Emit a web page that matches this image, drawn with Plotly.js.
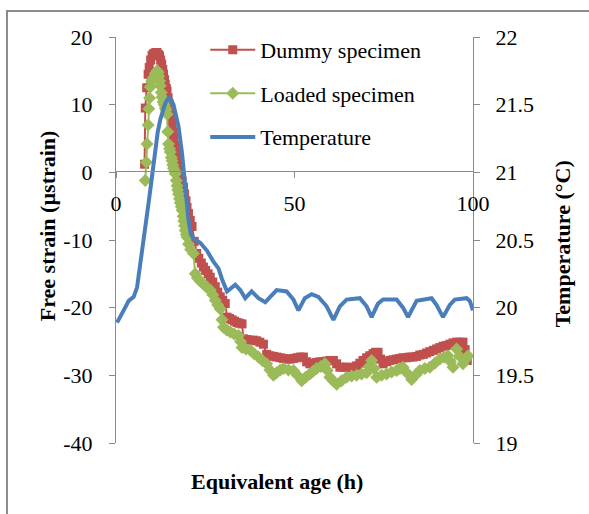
<!DOCTYPE html>
<html>
<head>
<meta charset="utf-8">
<script src="https://cdn.plot.ly/plotly-3.0.1.min.js"></script>
<style>
  html, body { margin: 0; padding: 0; background: #fff; }
  #wrap { position: relative; width: 589px; height: 514px; overflow: hidden; }
  #frame { position: absolute; left: 6px; top: 10px; width: 700px; height: 600px; border: 2px solid #8c8c8c; box-sizing: border-box; pointer-events: none; }
  #chart { position: absolute; left: 0; top: 0; width: 589px; height: 514px; }
</style>
</head>
<body>
<div id="wrap">
  <div id="chart"></div>
  <div id="frame"></div>
</div>
<script>
// Dummy specimen: equivalent age (h) and free strain (µstrain)
const dummyAge = [8.0, 8.2, 8.6, 9.0, 9.3, 9.7, 10.1, 10.5, 10.8, 11.2, 11.5, 11.9, 12.2, 12.5, 12.8, 13.1, 13.3, 13.6, 13.8, 14.1,
  14.3, 14.6, 14.8, 15.0, 15.2, 15.5, 15.7, 15.9, 16.1, 16.5, 16.8, 17.1, 17.5, 17.8, 18.2, 18.5, 18.9, 19.2, 19.6, 19.9,
  20.3, 20.8, 21.3, 21.9, 22.6, 23.2, 23.9, 24.5, 25.1, 25.8, 26.4, 27.1, 27.8, 28.5, 29.2, 29.9, 30.6, 31.1, 31.8, 32.5,
  33.2, 33.9, 34.6, 35.3, 35.7, 36.6, 37.5, 38.5, 39.4, 40.3, 41.3, 42.2, 43.1, 44.1, 45.0, 46.0, 46.9, 47.9, 48.8, 49.7,
  50.7, 51.6, 52.5, 53.4, 54.3, 55.2, 56.2, 57.1, 58.0, 59.0, 59.9, 60.9, 61.8, 62.7, 63.6, 64.6, 65.5, 66.4, 67.4, 68.3,
  69.2, 70.2, 71.1, 72.0, 72.7, 73.4, 74.1, 74.8, 75.8, 76.7, 77.6, 78.6, 79.5, 80.4, 81.4, 82.3, 83.2, 84.2, 85.1, 86.1,
  87.0, 87.9, 88.9, 89.8, 90.7, 91.6, 92.5, 93.5, 94.4, 95.4, 96.3, 97.2, 97.8, 98.4];
const dummyStrain = [1.2, 9.5, 12.5, 14.5, 15.5, 16.6, 17.3, 17.5, 17.6, 17.7, 17.7, 17.4, 17.2, 16.6, 16.0, 15.2, 14.5, 13.7, 13.0, 12.4,
  12.0, 11.0, 10.2, 9.4, 8.6, 7.6, 6.8, 6.0, 5.2, 4.0, 3.0, 2.1, 1.2, 0.3, -0.5, -1.3, -2.2, -3.2, -4.2, -5.2,
  -6.1, -7.1, -8.0, -10.2, -12.0, -12.7, -13.4, -14.0, -14.5, -15.0, -15.5, -16.2, -16.9, -17.7, -18.4, -18.9, -19.4, -21.4, -21.6, -21.8,
  -22.0, -22.2, -22.3, -22.4, -24.6, -24.7, -24.8, -24.8, -24.9, -25.1, -25.4, -26.9, -27.1, -27.2, -27.3, -27.4, -27.5, -27.6, -27.6, -27.5,
  -27.4, -27.3, -27.3, -28.0, -28.3, -28.2, -28.1, -28.0, -28.0, -27.9, -27.8, -27.8, -28.3, -28.8, -28.8, -28.8, -28.9, -28.8, -28.6, -28.2,
  -27.8, -27.4, -27.1, -26.8, -26.6, -26.6, -27.6, -28.3, -28.0, -27.8, -27.7, -27.6, -27.5, -27.4, -27.4, -27.3, -27.3, -27.2, -27.0, -26.9,
  -26.7, -26.5, -26.3, -26.1, -25.9, -25.7, -25.6, -25.4, -25.2, -25.1, -25.1, -25.1, -26.2, -27.8];

// Loaded specimen
const loadedAge = [8.2, 8.5, 8.7, 9.0, 9.2, 9.4, 9.6, 10.0, 10.5, 11.0, 11.5, 11.8, 12.0, 12.2, 12.4, 12.7, 12.9, 13.2, 13.5, 13.8,
  14.0, 14.3, 14.5, 14.7, 15.0, 15.2, 15.5, 15.7, 15.9, 16.1, 16.4, 16.6, 16.9, 17.1, 17.3, 17.5, 17.8, 18.0, 18.3, 18.5,
  18.8, 19.0, 19.2, 19.4, 19.7, 19.9, 20.3, 20.9, 21.7, 22.2, 22.8, 23.6, 24.5, 25.4, 26.4, 27.1, 27.8, 28.5, 29.2, 29.7,
  30.1, 31.0, 32.0, 33.1, 34.3, 34.9, 35.3, 36.4, 37.6, 38.7, 39.9, 41.0, 42.2, 43.1, 44.1, 45.0, 46.0, 46.9, 48.3, 49.7,
  50.8, 52.0, 53.1, 54.3, 55.2, 56.2, 57.4, 58.5, 59.2, 59.9, 60.8, 61.8, 63.2, 64.6, 66.0, 67.4, 68.8, 70.2, 70.9, 71.6,
  72.3, 73.0, 74.4, 75.8, 77.2, 78.6, 79.5, 80.4, 81.6, 82.8, 84.0, 85.1, 86.5, 87.9, 89.3, 90.7, 91.9, 93.0, 93.7, 94.4,
  95.4, 96.3, 97.2, 98.0, 98.6];
const loadedStrain = [-1.2, 1.5, 4.2, 7.0, 9.4, 11.0, 12.6, 13.5, 14.0, 14.6, 15.0, 14.8, 14.2, 13.5, 12.8, 11.8, 11.1, 10.4, 10.0, 9.5,
  9.2, 8.6, 6.0, 4.2, 3.5, 3.0, 2.2, 1.7, 1.1, 0.6, 0.2, -0.2, -1.2, -2.0, -2.6, -3.2, -3.9, -4.5, -5.1, -5.6,
  -6.5, -7.2, -7.9, -8.6, -9.2, -9.6, -10.6, -11.4, -12.0, -15.0, -15.6, -16.1, -16.5, -17.0, -17.4, -18.1, -18.9, -19.6, -20.2, -21.8,
  -22.9, -23.3, -23.6, -23.9, -24.1, -25.0, -25.9, -26.1, -26.3, -26.8, -27.3, -27.8, -28.3, -29.2, -30.0, -29.6, -29.2, -29.0, -29.2, -29.3,
  -30.0, -30.8, -30.3, -29.8, -29.4, -29.0, -28.7, -28.3, -29.3, -30.3, -30.8, -31.3, -30.8, -30.3, -30.1, -30.0, -29.8, -29.6, -28.7, -27.8,
  -29.0, -30.3, -30.0, -29.8, -29.5, -29.3, -29.0, -28.8, -29.7, -30.6, -29.9, -29.3, -29.0, -28.8, -28.2, -27.6, -27.3, -27.1, -28.0, -28.8,
  -26.1, -27.2, -28.3, -27.6, -27.1];

// Temperature (°C)
const tempAge = [0.3, 1.2, 2.15, 3.55, 4.95, 5.9, 6.8, 7.5, 8.2, 9.0, 9.6, 10.3, 11.0, 11.7, 12.4, 13.1, 13.8, 14.7, 15.4, 16.1,
  16.8, 17.5, 18.5, 19.4, 20.3, 21.0, 21.7, 23.6, 25.5, 27.3, 28.7, 29.7, 31.1, 33.4, 34.8, 36.2, 38.0, 39.9, 41.8, 43.2,
  45.0, 47.8, 49.7, 51.1, 52.9, 54.8, 56.7, 59.0, 60.9, 62.7, 64.6, 68.3, 70.2, 71.6, 73.4, 74.8, 78.6, 80.4, 81.8, 84.2,
  88.4, 89.8, 91.6, 93.5, 94.9, 98.2, 99.1, 100];
const tempValue = [19.89, 19.94, 19.98, 20.05, 20.08, 20.15, 20.31, 20.44, 20.58, 20.75, 20.87, 21.03, 21.19, 21.30, 21.39, 21.46, 21.51, 21.55, 21.54, 21.50,
  21.43, 21.34, 21.14, 20.90, 20.65, 20.54, 20.51, 20.48, 20.42, 20.34, 20.29, 20.21, 20.12, 20.17, 20.13, 20.07, 20.12, 20.07, 20.04, 20.08,
  20.13, 20.12, 20.06, 19.98, 20.07, 20.10, 20.08, 20.01, 19.91, 20.01, 20.06, 20.07, 20.01, 19.93, 20.03, 20.06, 20.06, 20.00, 19.93, 20.05,
  20.07, 20.02, 19.93, 20.02, 20.06, 20.07, 20.05, 19.98];

const seriesNames = ['Dummy specimen', 'Loaded specimen', 'Temperature'];
const xTicks = [0, 50, 100];
const yTicks = [-40, -30, -20, -10, 0, 10, 20];
const yTickLabels = ['-40', '-30', '-20', '-10', '0', '10', '20'];
const y2Ticks = [19, 19.5, 20, 20.5, 21, 21.5, 22];
const y2TickLabels = ['19', '19.5', '20', '20.5', '21', '21.5', '22'];

const FONT = 'Liberation Serif';
const AXIS_COLOR = '#8a8a8a';

const traces = [
  {
    x: dummyAge, y: dummyStrain, name: seriesNames[0], type: 'scatter', mode: 'lines+markers',
    line: {color: '#C0504D', width: 2},
    marker: {symbol: 'square', size: 9, color: '#C0504D', line: {width: 0}},
    legendgroup: 'a', yaxis: 'y'
  },
  {
    x: loadedAge, y: loadedStrain, name: seriesNames[1], type: 'scatter', mode: 'lines+markers',
    line: {color: '#9BBB59', width: 2},
    marker: {symbol: 'diamond', size: 10, color: '#9BBB59', line: {width: 0}},
    legendgroup: 'b', yaxis: 'y'
  },
  {
    x: tempAge, y: tempValue, name: seriesNames[2], type: 'scatter', mode: 'lines',
    line: {color: '#4A7EBB', width: 4},
    legendgroup: 'c', yaxis: 'y2'
  }
];

const layout = {
  width: 589, height: 514,
  margin: {l: 116, r: 116, t: 37, b: 71, pad: 0},
  paper_bgcolor: '#ffffff', plot_bgcolor: 'rgba(0,0,0,0)',
  font: {family: FONT, size: 22, color: '#000'},
  showlegend: true,
  legend: {
    x: 0.25, y: 1.02, xanchor: 'left', yanchor: 'top',
    bgcolor: 'rgba(255,255,255,0)', font: {family: FONT, size: 22, color: '#000'},
    tracegroupgap: 12, itemwidth: 45, traceorder: 'grouped'
  },
  xaxis: {
    range: [0, 100], tickvals: xTicks, ticks: 'outside', ticklen: 6, tickcolor: AXIS_COLOR,
    showline: true, linecolor: AXIS_COLOR, linewidth: 1, showgrid: false, zeroline: false,
    anchor: 'free', position: 0.669, ticklabelstandoff: 6,
    tickfont: {family: FONT, size: 22, color: '#000'}
  },
  yaxis: {
    range: [-40, 20], tickvals: yTicks, ticktext: yTickLabels, ticks: 'outside', ticklen: 6, tickcolor: AXIS_COLOR,
    showline: true, linecolor: AXIS_COLOR, linewidth: 1, showgrid: false, zeroline: false,
    ticklabelstandoff: 12, tickfont: {family: FONT, size: 22, color: '#000'}
  },
  yaxis2: {
    range: [19, 22], tickvals: y2Ticks, ticktext: y2TickLabels, ticks: 'outside', ticklen: 6, tickcolor: AXIS_COLOR,
    showline: true, linecolor: AXIS_COLOR, linewidth: 1, showgrid: false, zeroline: false,
    overlaying: 'y', side: 'right', ticklabelstandoff: 11,
    tickfont: {family: FONT, size: 22, color: '#000'}
  },
  annotations: [
    {text: '<b>Free strain (µstrain)</b>', xref: 'paper', yref: 'paper', x: -0.192, y: 0.535,
     xanchor: 'center', yanchor: 'middle', textangle: -90, showarrow: false,
     font: {family: FONT, size: 22, color: '#000'}},
    {text: '<b>Temperature (°C)</b>', xref: 'paper', yref: 'paper', x: 1.25, y: 0.49,
     xanchor: 'center', yanchor: 'middle', textangle: -90, showarrow: false,
     font: {family: FONT, size: 22, color: '#000'}},
    {text: '<b>Equivalent age (h)</b>', xref: 'paper', yref: 'paper', x: 0.451, y: -0.095,
     xanchor: 'center', yanchor: 'middle', showarrow: false,
     font: {family: FONT, size: 22, color: '#000'}}
  ]
};

Plotly.newPlot('chart', traces, layout, {displayModeBar: false, staticPlot: true});
</script>
</body>
</html>
